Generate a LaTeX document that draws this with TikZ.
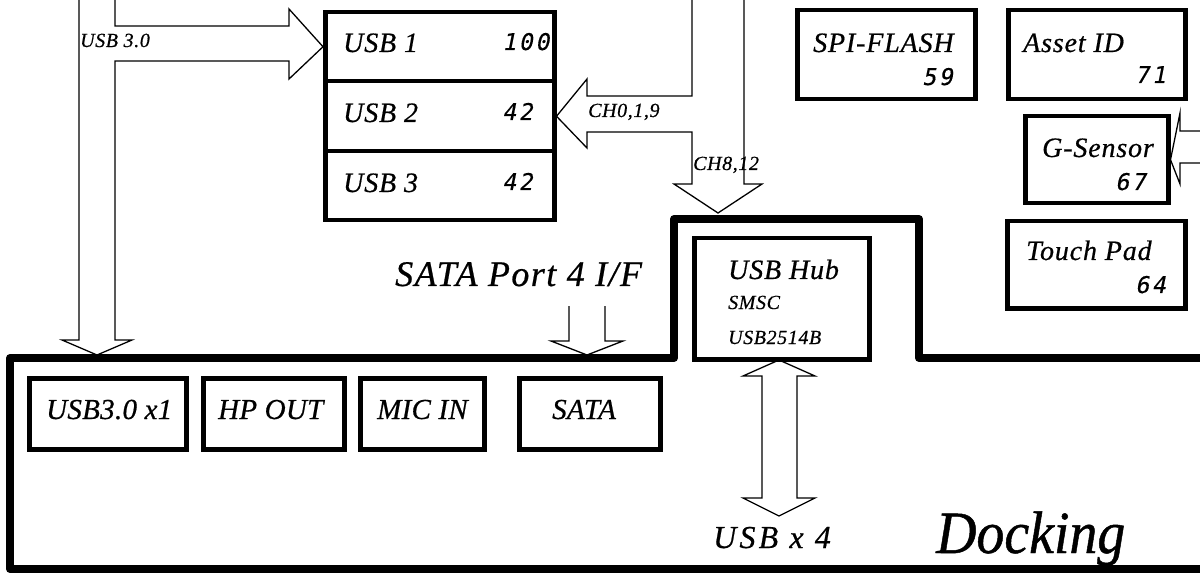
\documentclass[tikz,border=0pt]{standalone}
\usepackage{fontspec}
\setmainfont{Liberation Serif}
\newfontfamily\lblfont[LetterSpace=3,FakeBold=0.6]{Liberation Serif}
\newfontfamily\numfont[LetterSpace=12,FakeSlant=0.2,FakeBold=0.4]{DejaVu Sans Mono}
\newfontfamily\dockfont[FakeStretch=0.93,FakeBold=0.8]{Liberation Serif}
\begin{document}
\begin{tikzpicture}[x=1pt,y=-1pt,
  box/.style={draw, line width=4.5pt, inner sep=0pt, anchor=north west},
  fat/.style={draw, line width=1.3pt, line join=miter},
  dockline/.style={draw, line width=8pt, line join=round, line cap=butt},
  lab/.style={inner sep=0pt, anchor=base west, font=\lblfont\itshape\fontsize{28}{28}\selectfont},
  blab/.style={inner sep=0pt, anchor=base west, font=\lblfont\itshape\fontsize{29}{29}\selectfont\addfontfeature{LetterSpace=1}},
  slab/.style={inner sep=0pt, anchor=base west, font=\lblfont\itshape\fontsize{20}{20}\selectfont},
  numl/.style={inner sep=0pt, anchor=base west, font=\numfont\fontsize{23}{23}\selectfont}
]
\useasboundingbox (0,0) rectangle (1200,580);

% ---------- USB stack ----------
\node[box, minimum width=229pt, minimum height=69pt] (usb1) at (323,10) {};
\node[box, minimum width=229pt, minimum height=70pt] (usb2) at (323,79) {};
\node[box, minimum width=229pt, minimum height=69pt] (usb3) at (323,149) {};
\node[lab] (usb1t) at (343,52) {USB 1};
\node[lab] (usb2t) at (343,122) {USB 2};
\node[lab] (usb3t) at (343,192) {USB 3};
\node[numl] (n100) at (502,50) {100};
\node[numl] (n42a) at (502,120) {42};
\node[numl] (n42b) at (502,190) {42};

% ---------- right boxes ----------
\node[box, minimum width=178pt, minimum height=89pt] (spi) at (795,8) {};
\node[lab] (spit) at (813,52) {SPI-FLASH};
\node[numl] (n59) at (922,85) {59};
\node[box, minimum width=177pt, minimum height=89pt] (asset) at (1006,8) {};
\node[lab] (assett) at (1023,52) {Asset ID};
\node[numl] (n71) at (1135,83) {71};
\node[box, minimum width=143pt, minimum height=87pt] (gsen) at (1023,114) {};
\node[lab] (gsent) at (1042,157) {G-Sensor};
\node[numl] (n67) at (1115,190) {67};
\node[box, minimum width=178pt, minimum height=87pt] (tp) at (1005,219) {};
\node[lab] (tpt) at (1026,260) {Touch Pad};
\node[numl] (n64) at (1135,293) {64};

% ---------- docking outline ----------
\draw[dockline] (1200,358) -- (919,358) -- (919,219) -- (674,219) -- (674,358)
  -- (10,358) -- (10,569) -- (1200,569);

% ---------- USB hub ----------
\node[box, minimum width=175pt, minimum height=121pt] (hub) at (692,236) {};
\node[lab] (hubt) at (728,279) {USB Hub};
\node[slab] (smsc) at (728,309) {SMSC};
\node[slab] (chip) at (728,344) {USB2514B};

% ---------- bottom boxes ----------
\node[box, minimum width=157pt, minimum height=71pt] (u30) at (27,376) {};
\node[blab] (u30t) at (46,419) {USB3.0 x1};
\node[box, minimum width=141pt, minimum height=71pt] (hp) at (201,376) {};
\node[blab] (hpt) at (218,419) {HP OUT};
\node[box, minimum width=124pt, minimum height=71pt] (mic) at (358,376) {};
\node[blab] (mict) at (377,419) {MIC IN};
\node[box, minimum width=141pt, minimum height=71pt] (sata) at (517,376) {};
\node[blab] (satat) at (552,419) {SATA};

% ---------- big labels ----------
\node[inner sep=0pt, anchor=base west, font=\lblfont\itshape\fontsize{36}{36}\selectfont\addfontfeature{LetterSpace=4}] (sataif) at (395,286) {SATA Port 4 I/F};
\node[inner sep=0pt, anchor=base west, font=\lblfont\itshape\fontsize{32}{32}\selectfont\addfontfeature{LetterSpace=10}] (usbx4) at (713,548) {USB x 4};
\node[inner sep=0pt, anchor=base west, font=\dockfont\itshape\fontsize{60}{60}\selectfont] (dock) at (936,553) {Docking};

% ---------- small labels ----------
\node[slab] (u30lab) at (80,47) {USB 3.0};
\node[slab] (ch019) at (588,117) {CH0,1,9};
\node[slab] (ch812) at (693,170) {CH8,12};

% ---------- fat arrows ----------
% USB 3.0 : to USB 1 and down to docking
\coordinate (tipA) at (usb1.west);
\coordinate (tipB) at (97,355);
\draw[fat] (79,0) -- (79,340) -- (62,340) -- (tipB) -- (132,340) -- (115,340)
  -- (115,61) -- (289,61) -- (289,79) -- (tipA) -- (289,9) -- (289,26) -- (115,26) -- (115,0);

% CH0,1,9 to USB 2 and CH8,12 down to hub
\coordinate (tipC) at (usb2.east);
\coordinate (tipD) at (718,213);
\draw[fat] (692,0) -- (692,96) -- (587,96) -- (587,79) -- (tipC) -- (587,148) -- (587,132)
  -- (692,132) -- (692,184) -- (674,184) -- (tipD) -- (762,184) -- (744,184) -- (744,0);

% SATA Port 4 arrow
\coordinate (tipE) at (587,355);
\draw[fat] (569,306) -- (569,341) -- (551,341) -- (tipE) -- (623,341) -- (605,341) -- (605,306);

% G-Sensor arrow
\coordinate (tipF) at (gsen.east);
\draw[fat] (1200,131) -- (1180,131) -- (1180,113) -- (tipF) -- (1180,184) -- (1180,163) -- (1200,163);

% USB x4 double arrow
\coordinate (tipG) at (779,360);
\coordinate (tipH) at (779,516);
\draw[fat] (tipG) -- (815,376) -- (797,376) -- (797,498) -- (815,498) -- (tipH)
  -- (743,498) -- (762,498) -- (762,376) -- (743,376) -- cycle;
\end{tikzpicture}
\end{document}
